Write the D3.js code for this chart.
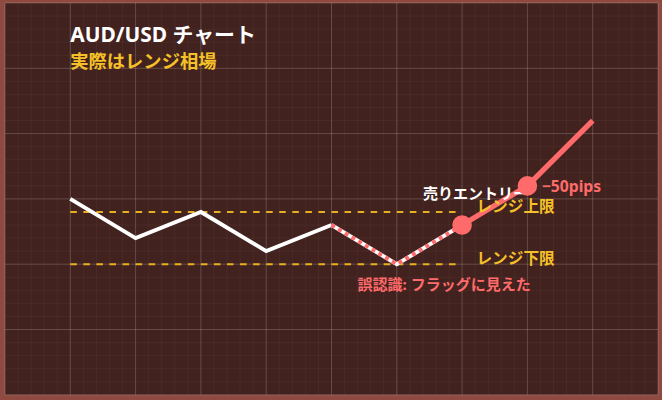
<!DOCTYPE html>
<html>
<meta charset="utf-8">
<style>
  body { margin: 0; background: #8e4a40; }
  svg { display: block; }
  text { font-family: "Noto Sans", "Noto Sans CJK JP", sans-serif; font-weight: 700; }
</style>
<body>
<script src="https://d3js.org/d3.v7.min.js"></script>
<script>
// price path (grid units, 1 unit = one minor grid step)
var steps  = [1, 2, 3, 4, 5, 6, 7, 8, 9];
var prices = [15, 12, 14, 11, 13, 10, 13, 16, 21];
var rangeTop = 14, rangeBottom = 10;
var entryIdx = 6, exitIdx = 7;   // sell entry, -50pips point
var xTicks = d3.range(0, 10.01, 1), xMinor = d3.range(0, 10.01, 0.2);
var yTicks = d3.range(0, 30.01, 5), yMinor = d3.range(0, 30.01, 1);

var W = 1000, H = 600, k = 0.653;

var svg = d3.select("body").append("svg")
    .attr("width", 662)
    .attr("height", 400);

svg.append("rect").attr("width", 662).attr("height", 400).attr("fill", "#8e4a40");

var g = svg.append("g").attr("transform", "translate(5,3) scale(" + k + ")");

g.append("rect").attr("width", W).attr("height", H).attr("fill", "#42221e");

var x = d3.scaleLinear().domain([0, 10]).range([0, W]);
var y = d3.scaleLinear().domain([0, 30]).range([H, 0]);

// grid
var grid = g.append("g").attr("class", "grid");
grid.selectAll(".vmin").data(xMinor).enter().append("line")
    .attr("x1", x).attr("x2", x).attr("y1", 0).attr("y2", H)
    .attr("stroke", "rgba(255,255,255,0.045)").attr("stroke-width", 1.5);
grid.selectAll(".hmin").data(yMinor).enter().append("line")
    .attr("y1", y).attr("y2", y).attr("x1", 0).attr("x2", W)
    .attr("stroke", "rgba(255,255,255,0.045)").attr("stroke-width", 1.5);
grid.selectAll(".vmaj").data(xTicks).enter().append("line")
    .attr("x1", x).attr("x2", x).attr("y1", 0).attr("y2", H)
    .attr("stroke", "rgba(255,255,255,0.16)").attr("stroke-width", 1.5);
grid.selectAll(".hmaj").data(yTicks).enter().append("line")
    .attr("y1", y).attr("y2", y).attr("x1", 0).attr("x2", W)
    .attr("stroke", "rgba(255,255,255,0.16)").attr("stroke-width", 1.5);

// range lines
[rangeTop, rangeBottom].forEach(function(v) {
  g.append("line")
      .attr("x1", x(1)).attr("x2", x(7))
      .attr("y1", y(v)).attr("y2", y(v))
      .attr("stroke", "#e8b020").attr("stroke-width", 3)
      .attr("stroke-dasharray", "10,10");
});

var pts = steps.map(function(s, i) { return [s, prices[i]]; });
var line = d3.line().x(function(d) { return x(d[0]); }).y(function(d) { return y(d[1]); });

// actual path
g.append("path").datum(pts.slice(0, 5))
    .attr("d", line).attr("fill", "none")
    .attr("stroke", "#fff").attr("stroke-width", 6);

// misread flag part
g.append("path").datum(pts.slice(4, 7))
    .attr("d", line).attr("fill", "none")
    .attr("stroke", "#fff").attr("stroke-width", 6);
g.append("path").datum(pts.slice(4, 7))
    .attr("d", line).attr("fill", "none")
    .attr("stroke", "#ff6b6b").attr("stroke-width", 6)
    .attr("stroke-dasharray", "6,6");

// after entry
g.append("path").datum(pts.slice(6))
    .attr("d", line).attr("fill", "none")
    .attr("stroke", "#ff6b6b").attr("stroke-width", 8);

// labels
g.append("text").attr("x", x(1)).attr("y", 60)
    .attr("font-size", 32).attr("fill", "#fff").text("AUD/USD チャート");
g.append("text").attr("x", x(1)).attr("y", 100)
    .attr("font-size", 28).attr("fill", "#f5c028").text("実際はレンジ相場");

g.append("text").attr("x", x(exitIdx + 1) + 22).attr("y", y(prices[exitIdx]) + 10)
    .attr("font-size", 24).attr("fill", "#ff6b6b").text("−50pips");
g.append("text").attr("x", x(entryIdx + 1) + 22).attr("y", y(rangeTop))
    .attr("font-size", 24).attr("fill", "#f5c028").text("レンジ上限");
g.append("text").attr("x", x(entryIdx + 1) + 22).attr("y", y(rangeBottom))
    .attr("font-size", 24).attr("fill", "#f5c028").text("レンジ下限");
g.append("text").attr("x", x(5.4)).attr("y", y(rangeBottom) + 40)
    .attr("font-size", 23).attr("fill", "#ff6b6b").text("誤認識: フラッグに見えた");
g.append("text").attr("x", x(6.4)).attr("y", y(15))
    .attr("font-size", 23).attr("fill", "#fff").text("売りエントリー");

// entry / exit markers
g.selectAll(".dot").data([pts[entryIdx], pts[exitIdx]]).enter().append("circle")
    .attr("cx", function(d) { return x(d[0]); })
    .attr("cy", function(d) { return y(d[1]); })
    .attr("r", 15).attr("fill", "#ff6b6b");
</script>
</body>
</html>
